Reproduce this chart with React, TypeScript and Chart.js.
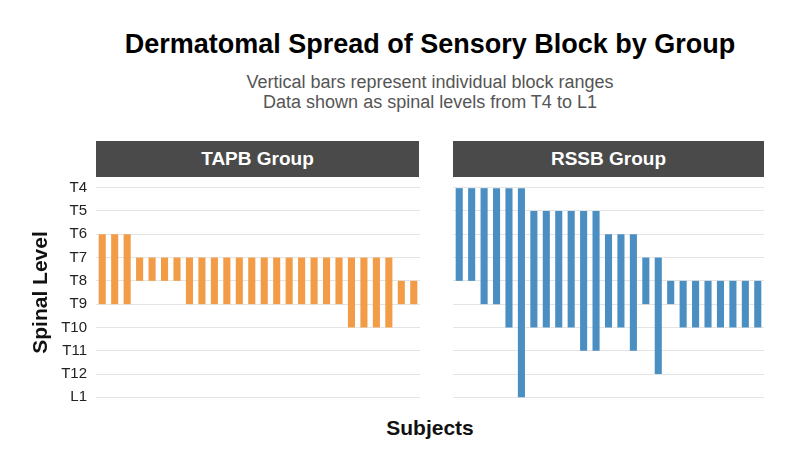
import React, { useEffect, useRef } from "react";
import { Chart, registerables } from "chart.js";

Chart.register(...registerables);

// Spinal levels, top (T4) to bottom (L1)
const levels = ["T4", "T5", "T6", "T7", "T8", "T9", "T10", "T11", "T12", "L1"];

// TAPB group: upper and lower block level per subject
const tapbFrom = [
  "T6", "T6", "T6",
  "T7", "T7", "T7", "T7",
  "T7", "T7", "T7", "T7", "T7", "T7", "T7", "T7", "T7", "T7", "T7", "T7", "T7",
  "T7", "T7", "T7", "T7",
  "T8", "T8",
];
const tapbTo = [
  "T9", "T9", "T9",
  "T8", "T8", "T8", "T8",
  "T9", "T9", "T9", "T9", "T9", "T9", "T9", "T9", "T9", "T9", "T9", "T9", "T9",
  "T10", "T10", "T10", "T10",
  "T9", "T9",
];

// RSSB group: upper and lower block level per subject
const rssbFrom = [
  "T4", "T4", "T4", "T4", "T4", "T4",
  "T5", "T5", "T5", "T5", "T5", "T5",
  "T6", "T6", "T6",
  "T7", "T7",
  "T8", "T8", "T8", "T8", "T8", "T8", "T8", "T8",
];
const rssbTo = [
  "T8", "T8", "T9", "T9", "T10", "L1",
  "T10", "T10", "T10", "T10", "T11", "T11",
  "T10", "T10", "T11",
  "T9", "T12",
  "T9", "T10", "T10", "T10", "T10", "T10", "T10", "T10",
];

const TAPB_COLOR = "#F39C48";
const RSSB_COLOR = "#4A8EC2";
const FONT = "'Liberation Sans', Arial, sans-serif";

function ranges(from: string[], to: string[]): [number, number][] {
  return from.map((f, i) => [levels.indexOf(f), levels.indexOf(to[i])]);
}

type PanelProps = {
  from: string[];
  to: string[];
  color: string;
  showAxis: boolean;
  width: number;
  height: number;
};

function Panel({ from, to, color, showAxis, width, height }: PanelProps) {
  const ref = useRef<HTMLCanvasElement | null>(null);

  useEffect(() => {
    if (!ref.current) return;
    const data = ranges(from, to);
    const chart = new Chart(ref.current, {
      type: "bar",
      data: {
        labels: data.map((_, i) => String(i + 1)),
        datasets: [
          {
            data: data as any,
            backgroundColor: color,
            borderWidth: 0,
            borderSkipped: false,
            barPercentage: 0.57,
            categoryPercentage: 1,
          },
        ],
      },
      options: {
        responsive: false,
        animation: false,
        layout: { padding: 0 },
        plugins: {
          legend: { display: false },
          tooltip: { enabled: false },
        },
        scales: {
          x: {
            type: "category",
            display: false,
            offset: true,
          },
          y: {
            type: "linear",
            min: -0.5,
            max: 9.5,
            reverse: true,
            border: { display: false },
            grid: {
              color: "#e4e4e4",
              lineWidth: 1,
              drawTicks: false,
            },
            afterBuildTicks: (scale: any) => {
              scale.ticks = levels.map((_, i) => ({ value: i }));
            },
            ticks: {
              display: showAxis,
              padding: 9,
              color: "#222222",
              font: { family: FONT, size: 15 },
              callback: (v: any) => levels[Math.round(Number(v))] ?? "",
            },
            title: {
              display: showAxis,
              text: "Spinal Level",
              color: "#111",
              font: { family: FONT, size: 21, weight: "bold" },
              padding: { top: 29, bottom: 0 },
            },
            afterFit: (scale: any) => {
              scale.width = showAxis ? 96 : 0;
              scale.paddingTop = 0;
              scale.paddingBottom = 0;
            },
          },
        },
      },
    });
    return () => chart.destroy();
  }, [from, to, color, showAxis]);

  return (
    <canvas
      ref={ref}
      width={width}
      height={height}
      style={{ display: "block", width, height }}
    />
  );
}

const stripStyle: React.CSSProperties = {
  position: "absolute",
  top: 141,
  height: 36,
  background: "#4a4a4a",
  color: "#ffffff",
  fontFamily: FONT,
  fontWeight: "bold",
  fontSize: 19,
  display: "flex",
  alignItems: "center",
  justifyContent: "center",
};

export default function App() {
  return (
    <div
      style={{
        position: "absolute",
        left: 0,
        top: 0,
        width: 794,
        height: 470,
        background: "#ffffff",
        fontFamily: FONT,
        overflow: "hidden",
      }}
    >
      <div
        style={{
          position: "absolute",
          left: 30,
          width: 800,
          top: 27,
          textAlign: "center",
          fontSize: 27,
          fontWeight: "bold",
          color: "#000",
          lineHeight: "34px",
        }}
      >
        Dermatomal Spread of Sensory Block by Group
      </div>
      <div
        style={{
          position: "absolute",
          left: 30,
          width: 800,
          top: 72,
          textAlign: "center",
          fontSize: 18,
          color: "#555555",
          lineHeight: "20px",
        }}
      >
        Vertical bars represent individual block ranges
        <br />
        Data shown as spinal levels from T4 to L1
      </div>

      <div style={{ ...stripStyle, left: 96, width: 323 }}>TAPB Group</div>
      <div style={{ ...stripStyle, left: 453, width: 311 }}>RSSB Group</div>

      <div style={{ position: "absolute", left: 0, top: 176 }}>
        <Panel from={tapbFrom} to={tapbTo} color={TAPB_COLOR} showAxis={true} width={420} height={233} />
      </div>
      <div style={{ position: "absolute", left: 453, top: 176 }}>
        <Panel from={rssbFrom} to={rssbTo} color={RSSB_COLOR} showAxis={false} width={311} height={233} />
      </div>

      <div
        style={{
          position: "absolute",
          left: 30,
          width: 800,
          top: 415,
          textAlign: "center",
          fontSize: 21,
          fontWeight: "bold",
          color: "#111",
          lineHeight: "26px",
        }}
      >
        Subjects
      </div>
    </div>
  );
}
